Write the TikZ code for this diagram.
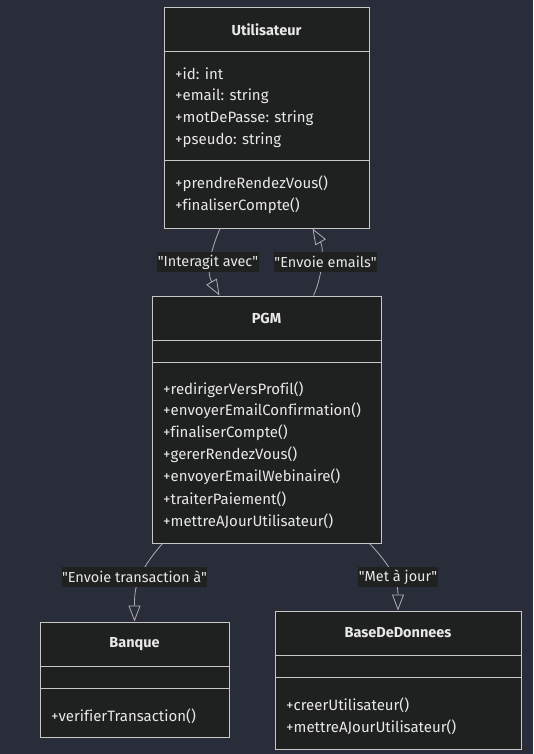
\documentclass[tikz,border=0pt]{standalone}
\usepackage{fontspec}
\newfontfamily\mmfont{Fira Sans}[Ligatures=NoCommon]
\usetikzlibrary{arrows.meta}

\definecolor{bgcol}{RGB}{41,45,58}
\definecolor{boxfill}{RGB}{31,32,32}
\definecolor{boxline}{RGB}{200,200,200}
\definecolor{edgecol}{RGB}{175,175,175}
\definecolor{txt}{RGB}{232,232,232}

\tikzstyle{classbox}=[draw=boxline,fill=boxfill,line width=1pt,inner sep=0pt]
\tikzstyle{divline}=[draw=boxline,line width=1pt]
\tikzstyle{title}=[text=txt,inner sep=0pt,font=\mmfont\fontsize{14.5}{17}\selectfont\bfseries]
\tikzstyle{member}=[anchor=west,text=txt,inner sep=0pt,font=\mmfont\fontsize{15}{17}\selectfont]
\tikzstyle{rel}=[draw=edgecol,line width=0.8pt,-{Triangle[open,length=16pt,width=12pt]}]
\tikzstyle{lbl}=[fill=boxfill,text=txt,inner xsep=0.5pt,inner ysep=0pt,minimum height=20pt,font=\mmfont\fontsize{14.5}{17}\selectfont]

\begin{document}
\begin{tikzpicture}[x=1pt,y=-1pt]
    \useasboundingbox[fill=bgcol] (0,0) rectangle (533,754);
    %Class boxes
    \node[classbox,minimum width=205pt,minimum height=220pt] (user) at (266.5,118) {};
    \node[classbox,minimum width=229pt,minimum height=247pt] (pgm) at (266.5,419.5) {};
    \node[classbox,minimum width=189pt,minimum height=115pt] (banque) at (134.5,679.5) {};
    \node[classbox,minimum width=246pt,minimum height=138pt] (bdd) at (398,680) {};
    %Compartments
    \foreach \cls/\y in {user/52, user/161, pgm/340, pgm/362,
                         banque/666, banque/688, bdd/655, bdd/677}
    \draw[divline] (\cls.west |- 0,\y) -- (\cls.east |- 0,\y);
    %Titles
    \node[title] (usertitle) at (266.5,30) {Utilisateur};
    \node[title] (pgmtitle) at (266.5,318) {PGM};
    \node[title] (banquetitle) at (134.5,644) {Banque};
    \node[title] (bddtitle) at (398,633) {BaseDeDonnees};
    %Members
    \foreach \y/\txt [count=\i] in {74/{+id: int}, 96/{+email: string},
                                    118/{+motDePasse: string}, 140/{+pseudo: string},
                                    184/{+prendreRendezVous()}, 206/{+finaliserCompte()}}
    \node[member] (user\i) at (175,\y) {\txt};
    \foreach \y/\txt [count=\i] in {390/{+redirigerVersProfil()}, 411/{+envoyerEmailConfirmation()},
                                    433/{+finaliserCompte()}, 455/{+gererRendezVous()},
                                    477/{+envoyerEmailWebinaire()}, 499/{+traiterPaiement()},
                                    521/{+mettreAJourUtilisateur()}}
    \node[member] (pgm\i) at (163,\y) {\txt};
    \node[member] (banque1) at (51,716) {+verifierTransaction()};
    \node[member] (bdd1) at (286,705) {+creerUtilisateur()};
    \node[member] (bdd2) at (286,727) {+mettreAJourUtilisateur()};
    %Relations
    \draw[rel] ([xshift=-46.5pt]user.south) .. controls (210,252) and (206,272) .. ([xshift=-47pt]pgm.north);
    \draw[rel] ([xshift=47pt]pgm.north) .. controls (323,275) and (324,248) .. ([xshift=46pt]user.south);
    \draw[rel] ([xshift=-104pt]pgm.south) .. controls (135,575) and (134.5,590) .. (banque.north);
    \draw[rel] ([xshift=103pt]pgm.south) .. controls (395,570) and (398,585) .. (bdd.north);
    %Labels
    \node[lbl] (interagit) at (208,262) {"Interagit avec"};
    \node[lbl] (emails) at (325.5,262) {"Envoie emails"};
    \node[lbl] (transaction) at (134.5,577) {"Envoie transaction à"};
    \node[lbl] (majour) at (398,577) {"Met à jour"};
\end{tikzpicture}
\end{document}
